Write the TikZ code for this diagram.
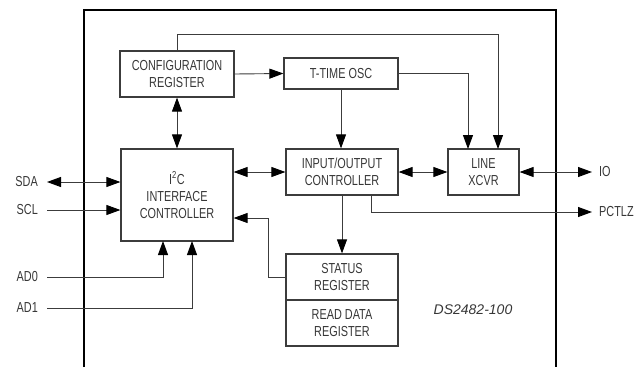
\documentclass[tikz,border=0pt]{standalone}
\usepackage{fontspec}
\setmainfont{Liberation Sans}[FakeStretch=0.75]
\newfontfamily\partfont{Liberation Sans}
\usetikzlibrary{arrows.meta}
\definecolor{mygray}{RGB}{60, 60, 60}
\definecolor{mytext}{RGB}{55, 55, 55}

\begin{document}
\begin{tikzpicture}[x=1pt, y=-1pt,
  block/.style={draw=mygray, line width=1.2pt, rectangle, inner sep=0pt,
    align=center, text=mytext, font=\fontsize{14.5}{17}\selectfont},
  pin/.style={text=mytext, inner sep=0pt, font=\fontsize{14.5}{17}\selectfont},
  wire/.style={draw=mygray, line width=0.9pt},
  arr/.style={wire, -{Triangle[length=14pt, width=10pt, color=black]}},
  darr/.style={wire, {Triangle[length=14pt, width=10pt, color=black]}-{Triangle[length=14pt, width=10pt, color=black]}}]

 \useasboundingbox (0,0) rectangle (637,367);

 % chip outline, open at the bottom
 \draw[line width=2.2pt] (84,367) -- (84,10) -- (556,10) -- (556,367);

 \node[block, minimum width=114pt, minimum height=46pt] (cfg) at (177,74) {CONFIGURATION\\REGISTER};
 \node[block, minimum width=114pt, minimum height=31pt] (osc) at (341,73.5) {T-TIME OSC};
 \node[block, minimum width=112pt, minimum height=92pt] (i2c) at (177,195) {I\textsuperscript{2}C\\INTERFACE\\CONTROLLER};
 \node[block, minimum width=112pt, minimum height=46pt] (ioc) at (342,172) {INPUT/OUTPUT\\CONTROLLER};
 \node[block, minimum width=71pt, minimum height=46pt] (xcvr) at (483.5,172) {LINE\\XCVR};
 \node[block, minimum width=112pt, minimum height=46pt] (stat) at (342,277) {STATUS\\REGISTER};
 \node[block, minimum width=112pt, minimum height=46pt] (rdr) at (342,323) {READ DATA\\REGISTER};

 \node[pin, anchor=east] (sda) at (38,182) {SDA};
 \node[pin, anchor=east] (scl) at (38,210) {SCL};
 \node[pin, anchor=east] (ad0) at (38,277) {AD0};
 \node[pin, anchor=east] (ad1) at (38,308) {AD1};
 \node[pin, anchor=west] (io) at (599,172) {IO};
 \node[pin, anchor=west] (pctlz) at (599,212) {PCTLZ};

 \node[text=mytext, font=\partfont\itshape\fontsize{14}{16}\selectfont] (part) at (473,310) {DS2482-100};

 \coordinate (T1) at (177,34);
 \coordinate (X1) at (468,149);
 \coordinate (X2) at (498,149);
 \coordinate (A0) at (163,241);
 \coordinate (A1) at (192,241);
 \coordinate (P1) at (371,195);
 \coordinate (S1) at (268,218);

 \draw[arr] (cfg.north) -- (T1) -| (X2);
 \draw[arr] (cfg.east) -- (osc.west);
 \draw[arr] (osc.east) -| (X1);
 \draw[darr] (cfg.south) -- (i2c.north);
 \draw[arr] (osc.south) -- (osc.south |- ioc.north);

 \draw[darr] (sda.east) ++(9,0) -- (sda -| i2c.west);
 \draw[arr] (scl.east) ++(9,0) -- (scl -| i2c.west);
 \draw[arr] (ad0.east) ++(9,0) -| (A0);
 \draw[arr] (ad1.east) ++(9,0) -| (A1);

 \draw[darr] (i2c.east |- ioc.west) -- (ioc.west);
 \draw[darr] (ioc.east) -- (xcvr.west);
 \draw[darr] (xcvr.east) -- ([xshift=-7pt]io.west);
 \draw[arr] (P1) |- ([xshift=-7pt]pctlz.west);
 \draw[arr] (ioc.south) -- (stat.north);
 \draw[arr] (stat.west) -| (S1) -- (i2c.east |- S1);

\end{tikzpicture}
\end{document}
